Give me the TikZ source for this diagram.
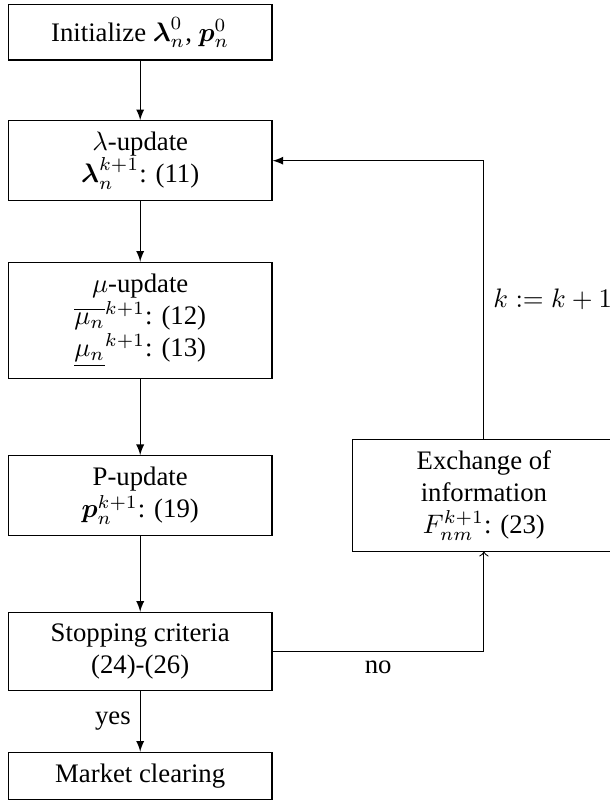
\documentclass[tikz,border=0pt]{standalone}
\usepackage{amsmath}
\usepackage[no-math]{fontspec}
\setmainfont{Liberation Serif}
\usetikzlibrary{arrows}
\begin{document}
\begin{tikzpicture}[x=0.37406pt,y=-0.37406pt,
  box/.style={draw, line width=0.4pt, minimum width=98.6pt, align=center, inner sep=1pt, font=\fontsize{10}{12}\selectfont},
  arr/.style={-latex},
  lbl/.style={font=\fontsize{10}{12}\selectfont}]
\useasboundingbox (0,0) rectangle (610,802);
\node[box, minimum height=20.6pt] (init) at (140.2,32.5) {Initialize $\boldsymbol{\lambda}_n^0$, $\boldsymbol{p}_n^0$};
\node[box, minimum height=29.9pt] (lam) at (140.2,160.7) {$\lambda$-update\\ $\boldsymbol{\lambda}_n^{k+1}$: (11)};
\node[box, minimum height=43.4pt] (mu) at (140.2,320.3) {$\mu$-update\\ $\overline{\mu_n}^{k+1}$: (12)\\ $\underline{\mu_n}^{k+1}$: (13)};
\node[box, minimum height=30pt] (pup) at (140.2,495.8) {P-update\\ $\boldsymbol{p}_n^{k+1}$: (19)};
\node[box, minimum height=29.3pt] (stop) at (140.2,651.5) {Stopping criteria\\ (24)-(26)};
\node[box, minimum height=17.6pt] (market) at (140.2,775.8) {Market clearing};
\node[box, minimum height=41.8pt] (exch) at (483.9,495.2) {Exchange of\\ information\\ $F_{nm}^{k+1}$: (23)};
\draw[arr] (init) -- (lam);
\draw[arr] (lam) -- (mu);
\draw[arr] (mu) -- (pup);
\draw[arr] (pup) -- (stop);
\draw[arr] (stop) -- node[lbl, left] {yes} (market);
\draw[->] (stop.east) -| node[lbl, pos=0.25, below] {no} (exch.south);
\draw[arr] (exch.north) |- node[lbl, pos=0.25, right] {$k := k+1$} (lam.east);
\end{tikzpicture}
\end{document}
